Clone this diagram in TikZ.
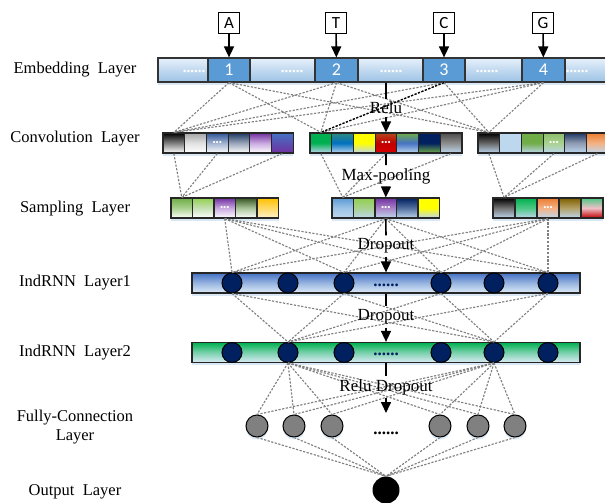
\documentclass[tikz,border=0pt]{standalone}
\usepackage{fontspec}
\setmainfont{Liberation Serif}
\newfontfamily\cellfont{Carlito}
\usepackage{tikz}
\usetikzlibrary{arrows.meta, shadows}

\definecolor{lb}{HTML}{BDD7EE}
\definecolor{frost}{HTML}{DDEBF7}
\definecolor{embtop}{HTML}{E6F0FA}
\definecolor{embbot}{HTML}{9DC3E6}
\definecolor{embblue}{HTML}{5B9BD5}
\definecolor{ocean}{HTML}{4472C4}
\definecolor{royal}{HTML}{2F5597}
\definecolor{navy}{HTML}{1F3864}
\definecolor{deepnavy}{HTML}{002060}
\definecolor{plum}{HTML}{7030A0}
\definecolor{lilac}{HTML}{C9A9E0}
\definecolor{leaf}{HTML}{70AD47}
\definecolor{softleaf}{HTML}{A9D18E}
\definecolor{paleleaf}{HTML}{C5E0B4}
\definecolor{limegreen}{HTML}{92D050}
\definecolor{emerald}{HTML}{00B050}
\definecolor{forest}{HTML}{375623}
\definecolor{sage}{HTML}{A9C49A}
\definecolor{amber}{HTML}{FFC000}
\definecolor{cream}{HTML}{FFF2CC}
\definecolor{tangerine}{HTML}{ED7D31}
\definecolor{peach}{HTML}{F4B183}
\definecolor{crimson}{HTML}{C00000}
\definecolor{rust}{HTML}{B4471C}
\definecolor{bronze}{HTML}{7F6000}
\definecolor{seablue}{HTML}{0070C0}
\definecolor{tealgreen}{HTML}{2E8B80}
\definecolor{steel}{HTML}{5470A0}
\definecolor{pinkish}{HTML}{F0C0C8}
\definecolor{darkgrey}{HTML}{4D4D4D}
\definecolor{glow}{HTML}{D6E6F5}

\tikzstyle{layername} = [font=\fontsize{16.5}{19}\selectfont, align=center]
\tikzstyle{oplabel} = [font=\fontsize{17}{19}\selectfont, inner sep=3pt]
\tikzstyle{glowing} = [drop shadow={shadow xshift=0pt, shadow yshift=-2.5pt, fill=glow, opacity=0.9}]
\tikzstyle{letterbox} = [rectangle, 
draw=black, 
line width=1pt, 
fill=white, 
minimum width=21pt, 
minimum height=21pt, 
inner sep=0pt, 
font=\cellfont\fontsize{17}{17}\selectfont]
\tikzstyle{embgap} = [rectangle, 
glowing, 
draw=black!80, 
line width=1.2pt, 
minimum height=24pt, 
inner sep=0pt, 
top color=embtop, 
bottom color=embbot]
\tikzstyle{embid} = [rectangle, 
glowing, 
draw=black!80, 
line width=1.2pt, 
minimum height=24pt, 
inner sep=0pt, 
fill=embblue, 
text=white, 
font=\cellfont\fontsize{18}{18}\selectfont]
\tikzstyle{cell} = [rectangle, 
glowing, 
draw=black!85, 
line width=1.2pt, 
minimum width=21.7pt, 
minimum height=20pt, 
inner sep=0pt]
\tikzstyle{celldots} = [text=white, inner sep=0pt, font=\fontsize{9}{9}\selectfont]
\tikzstyle{embdots} = [text=white, inner sep=0pt, anchor=base, font=\bfseries\fontsize{15}{15}\selectfont]
\tikzstyle{rowdots} = [inner sep=0pt, anchor=base, font=\bfseries\fontsize{17}{17}\selectfont]
\tikzstyle{rnnbar} = [rectangle, glowing, draw=black!85, line width=1.2pt, minimum width=388pt, minimum height=20pt, inner sep=0pt]
\tikzstyle{neuron} = [circle, draw=black, line width=1pt, fill=deepnavy, minimum size=20pt, inner sep=0pt]
\tikzstyle{fcneuron} = [circle, glowing, draw=black, line width=1pt, fill=black!50, minimum size=22pt, inner sep=0pt]
\tikzstyle{link} = [dash pattern=on 2.2pt off 1.5pt, draw=black!50, line width=1.15pt]
\tikzstyle{hotlink} = [link, draw=black, line width=1.3pt]
\tikzstyle{stem} = [line width=1.6pt]
\tikzstyle{arrow} = [line width=1.6pt, -{Triangle[length=11pt, width=10pt]}]

\begin{document}
\begin{tikzpicture}[x=1pt, y=-1pt]
    \clip (0,0) rectangle (605,503);

    % layer names
    \node (nemb) [layername] at (75,70) {Embedding~~Layer};
    \node (nconv) [layername] at (75,139) {Convolution~ Layer};
    \node (nsamp) [layername] at (75,209) {Sampling~ Layer};
    \node (nrnn1) [layername] at (75,283) {IndRNN~ Layer1};
    \node (nrnn2) [layername] at (75,353) {IndRNN~ Layer2};
    \node (nfc) [layername] at (75,427) {Fully-Connection\\Layer};
    \node (nout) [layername] at (75,492) {Output~ Layer};

    % input bases
    \node (inA) [letterbox] at (229,23) {A};
    \node (inT) [letterbox] at (336,23) {T};
    \node (inC) [letterbox] at (444,23) {C};
    \node (inG) [letterbox] at (543,23) {G};

    % embedding row
    \node (g1) [embgap, minimum width=50pt] at (183,70) {};
    \node (g2) [embgap, minimum width=65pt] at (282.5,70) {};
    \node (g3) [embgap, minimum width=65pt] at (390.5,70) {};
    \node (g4) [embgap, minimum width=57pt] at (493.5,70) {};
    \node (g5) [embgap, minimum width=45pt] at (587.5,70) {};
    \node (emb1) [embid, minimum width=42pt] at (229,70) {1};
    \node (emb2) [embid, minimum width=43pt] at (336.5,70) {2};
    \node (emb3) [embid, minimum width=42pt] at (444,70) {3};
    \node (emb4) [embid, minimum width=43pt] at (543.5,70) {4};
    \node (dots1) [embdots] at (194,73) {......};
    \node (dots2) [embdots] at (292,73) {......};
    \node (dots3) [embdots] at (391,73) {......};
    \node (dots4) [embdots] at (487,73) {......};
    \node (dots5) [embdots] at (577,73) {......};

    \draw [arrow] (inA) -- (emb1);
    \draw [arrow] (inT) -- (emb2);
    \draw [arrow] (inC) -- (emb3);
    \draw [arrow] (inG) -- (emb4);

    % convolution feature maps
    \foreach \t/\m/\b [count=\i] in {black/black!50/white, black!35/black!12/white, royal/royal!45/white,
        navy/navy!45/white, plum/lilac/white, ocean/ocean!50!plum/plum}
        \node (c1-\i) [cell, top color=\t, bottom color=\b, middle color=\m] at ({163+21.7*(\i-0.5)},143) {};
    \foreach \t/\m/\b [count=\i] in {emerald/emerald/lb, tealgreen/seablue/lb, yellow/yellow/lb,
        rust/crimson/red!85!black, leaf/ocean/lb, deepnavy/deepnavy/leaf, darkgrey/black!45/lb}
        \node (c2-\i) [cell, top color=\t, bottom color=\b, middle color=\m] at ({310+21.7*(\i-0.5)},143) {};
    \foreach \t/\m/\b [count=\i] in {black/black!60/lb, lb/lb/lb, leaf/leaf/lb,
        leaf!80/softleaf/lb, navy/navy!50/lb, tangerine/peach/lb}
        \node (c3-\i) [cell, top color=\t, bottom color=\b, middle color=\m] at ({478+21.7*(\i-0.5)},143) {};
    \node (c1dots) [celldots] at (c1-3) {\textbullet\textbullet\textbullet};
    \node (c2dots) [celldots] at (c2-4) {\textbullet\textbullet\textbullet};
    \node (c3dots) [celldots] at (c3-4) {\textbullet\textbullet\textbullet};

    % pooled maps
    \foreach \t/\m/\b [count=\i] in {leaf/softleaf/white, limegreen/paleleaf/white, plum/lilac/white,
        forest/sage/white, amber/amber!60/cream}
        \node (s1-\i) [cell, minimum width=21.5pt, top color=\t, bottom color=\b, middle color=\m] at ({171+21.5*(\i-0.5)},208) {};
    \foreach \t/\m/\b [count=\i] in {embblue/embbot/lb, limegreen/softleaf/lb, plum/plum!60/lb,
        deepnavy/steel/lb, yellow/yellow/lb}
        \node (s2-\i) [cell, minimum width=21.5pt, top color=\t, bottom color=\b, middle color=\m] at ({332+21.5*(\i-0.5)},208) {};
    \foreach \t/\m/\b [count=\i] in {black/black!55/lb, emerald/emerald!70/lb, tangerine/peach/lb,
        bronze/bronze!60/lb, emerald!70/pinkish/crimson}
        \node (s3-\i) [cell, minimum width=22pt, top color=\t, bottom color=\b, middle color=\m] at ({493+22*(\i-0.5)},208) {};
    \node (s1dots) [celldots] at (s1-3) {\textbullet\textbullet\textbullet};
    \node (s2dots) [celldots] at (s2-3) {\textbullet\textbullet\textbullet};
    \node (s3dots) [celldots] at (s3-3) {\textbullet\textbullet\textbullet};

    % recurrent layers
    \node (rnn1) [rnnbar, top color=ocean, bottom color=frost, middle color=ocean!45!frost] at (386,283) {};
    \node (rnn2) [rnnbar, top color=emerald, bottom color=frost, middle color=emerald!45!frost] at (386,352.5) {};
    \foreach \x [count=\j] in {232,288,344,441,494,548} {
        \node (r1-\j) [neuron] at (\x,283) {};
        \node (r2-\j) [neuron] at (\x,352.5) {};
    }
    \node (rdots1) [rowdots, text=deepnavy] at (386,286) {......};
    \node (rdots2) [rowdots, text=deepnavy] at (386,355.5) {......};

    % dense + output
    \foreach \x [count=\f] in {257,294,332,440,478,515}
        \node (f\f) [fcneuron] at (\x,426) {};
    \node (fdots) [rowdots] at (386,434) {......};
    \node (out) [circle, fill=black, minimum size=27pt, inner sep=0pt] at (386,490) {};

    % dashed connections
    \foreach \k in {1,...,4}
        \foreach \g in {1,2,3}
            \draw [link] (emb\k.south) -- (c\g-1.north);
    \draw [hotlink] (emb3.south) -- (c2-1.north);
    \foreach \g/\a/\b/\c in {1/1/3/6, 2/1/4/7, 3/1/4/6}
        \foreach \i in {\a,\b,\c}
            \draw [link] (c\g-\i.south) -- (s\g-1.north);
    \foreach \g in {1,2,3}
        \foreach \j in {1,3,4,6}
            \draw [link] (s\g-3.south) -- (r1-\j.north);
    \foreach \j in {1,3,4,6}
        \foreach \m in {2,5}
            \draw [link] (r1-\j.south) -- (r2-\m.north);
    \foreach \m in {2,5}
        \foreach \f in {1,...,6}
            \draw [link] (r2-\m.south) -- (f\f.north);
    \foreach \f in {1,...,6}
        \draw [link] (f\f.south) -- (out.north);

    % operations between layers
    \node (relu) [oplabel] at (386,108) {Relu};
    \node (maxpool) [oplabel] at (386,176) {Max-pooling};
    \node (drop1) [oplabel] at (386,246) {Dropout};
    \node (drop2) [oplabel] at (386,317) {Dropout};
    \node (reludrop) [oplabel] at (386,387) {Relu Dropout};
    \coordinate (fctip) at (386,413);

    \draw [stem] (relu |- g3.south) -- (relu.north);
    \draw [arrow] (relu.south) -- (c2-4.north);
    \draw [stem] (c2-4.south) -- (maxpool.north);
    \draw [arrow] (maxpool.south) -- (s2-3.north);
    \draw [stem] (s2-3.south) -- (drop1.north);
    \draw [arrow] (drop1.south) -- (rnn1.north);
    \draw [stem] (rnn1.south) -- (drop2.north);
    \draw [arrow] (drop2.south) -- (rnn2.north);
    \draw [stem] (rnn2.south) -- (reludrop.north);
    \draw [arrow] (reludrop.south) -- (fctip);
\end{tikzpicture}
\end{document}
